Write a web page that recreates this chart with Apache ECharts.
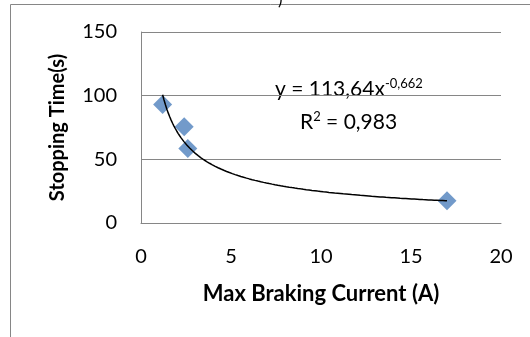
<!DOCTYPE html>
<html><head><meta charset="utf-8">
<script src="https://cdn.jsdelivr.net/npm/echarts@6/dist/echarts.min.js"></script>
<style>html,body{margin:0;padding:0;background:#fff}#c{width:530px;height:337px}</style>
</head><body><div id="c"></div>
<script>
// Data
const currentA = [1.2, 2.4, 2.6, 17.0];
const stoppingTime = [93, 75.5, 58.5, 17.5];
// Power trendline shown on chart: y = 113.64 x^-0.662
const fitA = 113.64, fitB = -0.662;
const xTicks = [0, 5, 10, 15, 20];
const yTicks = [0, 50, 100, 150];

const pts = currentA.map((x, i) => [x, stoppingTime[i]]);
const xmin = Math.min(...currentA), xmax = Math.max(...currentA);
const trend = [];
for (let k = 0; k <= 200; k++) {
  const x = xmin + (xmax - xmin) * k / 200;
  trend.push([x, fitA * Math.pow(x, fitB)]);
}
const F = 'Lato, "Open Sans", sans-serif';
const chart = echarts.init(document.getElementById('c'));
chart.setOption({
  animation: false,
  grid: { left: 141, top: 32, right: 29, bottom: 114 },
  xAxis: {
    type: 'value', min: xTicks[0], max: xTicks[xTicks.length - 1], interval: 5,
    name: 'Max Braking Current (A)', nameLocation: 'middle', nameGap: 60,
    nameTextStyle: { fontFamily: F, fontSize: 22, fontWeight: 'bold', color: '#000' },
    axisLine: { lineStyle: { color: '#868686', width: 1 } },
    axisTick: { show: false },
    axisLabel: { fontFamily: F, fontSize: 20, color: '#000', margin: 24 },
    splitLine: { show: false }
  },
  yAxis: {
    type: 'value', min: yTicks[0], max: yTicks[yTicks.length - 1], interval: 50,
    name: 'Stopping Time(s)', nameLocation: 'middle', nameGap: 73, nameRotate: 90,
    nameTextStyle: { fontFamily: F, fontSize: 20, fontWeight: 'bold', color: '#000' },
    axisLine: { show: true, lineStyle: { color: '#868686', width: 1 } },
    axisTick: { show: false },
    axisLabel: { fontFamily: F, fontSize: 20, color: '#000', margin: 24 },
    splitLine: { show: true, lineStyle: { color: '#868686', width: 1 } }
  },
  series: [
    { type: 'line', data: trend, showSymbol: false, symbol: 'none', smooth: false,
      lineStyle: { color: '#000', width: 1.5 }, z: 3 },
    { type: 'scatter', data: pts, symbol: 'diamond', symbolSize: 19,
      itemStyle: { color: '#4F81BD' }, z: 2 }
  ],
  graphic: [
    { type: 'rect', shape: { x: 10.5, y: 4.5, width: 600, height: 400 },
      style: { fill: 'none', stroke: '#868686', lineWidth: 1 }, silent: true },
    { type: 'text', left: 278, top: -9, style: { text: ')', font: '17px ' + F, fill: '#000' } },
    { type: 'text', left: 275, top: 77,
      style: { rich: { n: { fontFamily: F, fontSize: 21, color: '#000' },
                       s: { fontFamily: F, fontSize: 13, color: '#000', padding: [0,0,11,0] } },
               text: '{n|y = 113,64x}{s|-0,662}' } },
    { type: 'text', left: 300, top: 110,
      style: { rich: { n: { fontFamily: F, fontSize: 21, color: '#000' },
                       s: { fontFamily: F, fontSize: 13, color: '#000', padding: [0,0,11,0] } },
               text: '{n|R}{s|2}{n| = 0,983}' } }
  ]
});
</script></body></html>
